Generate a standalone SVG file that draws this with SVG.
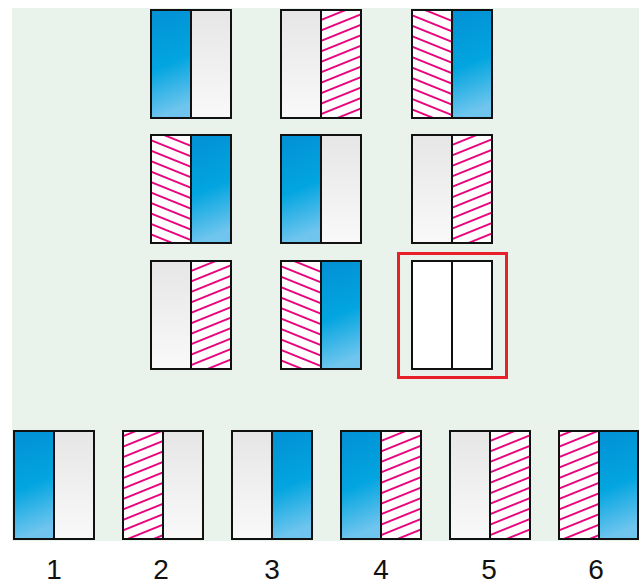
<svg xmlns="http://www.w3.org/2000/svg" width="639" height="586" viewBox="0 0 639 586">
<defs>
<linearGradient id="blue" x1="0" y1="0" x2="0.15" y2="1">
<stop offset="0" stop-color="#0290d4"/>
<stop offset="0.55" stop-color="#02a5e0"/>
<stop offset="1" stop-color="#6fc5ee"/>
</linearGradient>
<linearGradient id="gray" x1="0" y1="0" x2="0" y2="1">
<stop offset="0" stop-color="#e6e6e6"/>
<stop offset="1" stop-color="#f9f9f9"/>
</linearGradient>
<pattern id="hr" patternUnits="userSpaceOnUse" width="10" height="9.7" patternTransform="rotate(-22)">
<rect x="-1" y="-1" width="12" height="12" fill="#fff"/>
<line x1="-1" y1="4.85" x2="11" y2="4.85" stroke="#e8067f" stroke-width="2"/>
</pattern>
<pattern id="hl" patternUnits="userSpaceOnUse" width="10" height="9.7" patternTransform="rotate(22)">
<rect x="-1" y="-1" width="12" height="12" fill="#fff"/>
<line x1="-1" y1="4.85" x2="11" y2="4.85" stroke="#e8067f" stroke-width="2"/>
</pattern>
</defs>
<style>
.b{fill:url(#blue)}
.g{fill:url(#gray)}
.r{fill:url(#hr)}
.l{fill:url(#hl)}
.w{fill:#fff}
.o{fill:none;stroke:#111;stroke-width:2}
.d{stroke:#111;stroke-width:2}
.lab{font-family:"Liberation Sans",Arial,sans-serif;font-size:28px;fill:#111;text-anchor:middle}
</style>
<rect x="12" y="8" width="627" height="533" fill="#e9f3ec"/>

<g id="r1c1" transform="translate(151,10)"><rect class="b" width="40" height="108"/><rect class="g" x="40" width="40" height="108"/><rect class="o" width="80" height="108"/><line class="d" x1="40" y1="0" x2="40" y2="108"/></g>
<g id="r1c2" transform="translate(281,10)"><rect class="g" width="40" height="108"/><rect class="r" x="40" width="40" height="108"/><rect class="o" width="80" height="108"/><line class="d" x1="40" y1="0" x2="40" y2="108"/></g>
<g id="r1c3" transform="translate(412,10)"><rect class="l" width="40" height="108"/><rect class="b" x="40" width="40" height="108"/><rect class="o" width="80" height="108"/><line class="d" x1="40" y1="0" x2="40" y2="108"/></g>

<g id="r2c1" transform="translate(151,135)"><rect class="l" width="40" height="108"/><rect class="b" x="40" width="40" height="108"/><rect class="o" width="80" height="108"/><line class="d" x1="40" y1="0" x2="40" y2="108"/></g>
<g id="r2c2" transform="translate(281,135)"><rect class="b" width="40" height="108"/><rect class="g" x="40" width="40" height="108"/><rect class="o" width="80" height="108"/><line class="d" x1="40" y1="0" x2="40" y2="108"/></g>
<g id="r2c3" transform="translate(412,135)"><rect class="g" width="40" height="108"/><rect class="r" x="40" width="40" height="108"/><rect class="o" width="80" height="108"/><line class="d" x1="40" y1="0" x2="40" y2="108"/></g>

<g id="r3c1" transform="translate(151,261)"><rect class="g" width="40" height="108"/><rect class="r" x="40" width="40" height="108"/><rect class="o" width="80" height="108"/><line class="d" x1="40" y1="0" x2="40" y2="108"/></g>
<g id="r3c2" transform="translate(281,261)"><rect class="l" width="40" height="108"/><rect class="b" x="40" width="40" height="108"/><rect class="o" width="80" height="108"/><line class="d" x1="40" y1="0" x2="40" y2="108"/></g>
<g id="r3c3" transform="translate(412,261)"><rect class="w" width="80" height="108"/><rect class="o" width="80" height="108"/><line class="d" x1="40" y1="0" x2="40" y2="108"/></g>
<rect id="highlight" x="398.5" y="253.5" width="108" height="124" fill="none" stroke="#e8202a" stroke-width="3"/>

<g id="opt1" transform="translate(14,431)"><rect class="b" width="40" height="108"/><rect class="g" x="40" width="40" height="108"/><rect class="o" width="80" height="108"/><line class="d" x1="40" y1="0" x2="40" y2="108"/></g>
<g id="opt2" transform="translate(123,431)"><rect class="r" width="40" height="108"/><rect class="g" x="40" width="40" height="108"/><rect class="o" width="80" height="108"/><line class="d" x1="40" y1="0" x2="40" y2="108"/></g>
<g id="opt3" transform="translate(232,431)"><rect class="g" width="40" height="108"/><rect class="b" x="40" width="40" height="108"/><rect class="o" width="80" height="108"/><line class="d" x1="40" y1="0" x2="40" y2="108"/></g>
<g id="opt4" transform="translate(341,431)"><rect class="b" width="40" height="108"/><rect class="r" x="40" width="40" height="108"/><rect class="o" width="80" height="108"/><line class="d" x1="40" y1="0" x2="40" y2="108"/></g>
<g id="opt5" transform="translate(450,431)"><rect class="g" width="40" height="108"/><rect class="r" x="40" width="40" height="108"/><rect class="o" width="80" height="108"/><line class="d" x1="40" y1="0" x2="40" y2="108"/></g>
<g id="opt6" transform="translate(559,431)"><rect class="r" width="40" height="108"/><rect class="b" x="40" width="40" height="108"/><rect class="o" width="79" height="108"/><line class="d" x1="40" y1="0" x2="40" y2="108"/></g>

<g id="labels">
<text class="lab" x="54" y="579">1</text>
<text class="lab" x="161" y="579">2</text>
<text class="lab" x="272" y="579">3</text>
<text class="lab" x="381" y="579">4</text>
<text class="lab" x="489" y="579">5</text>
<text class="lab" x="596" y="579">6</text>
</g>
</svg>
